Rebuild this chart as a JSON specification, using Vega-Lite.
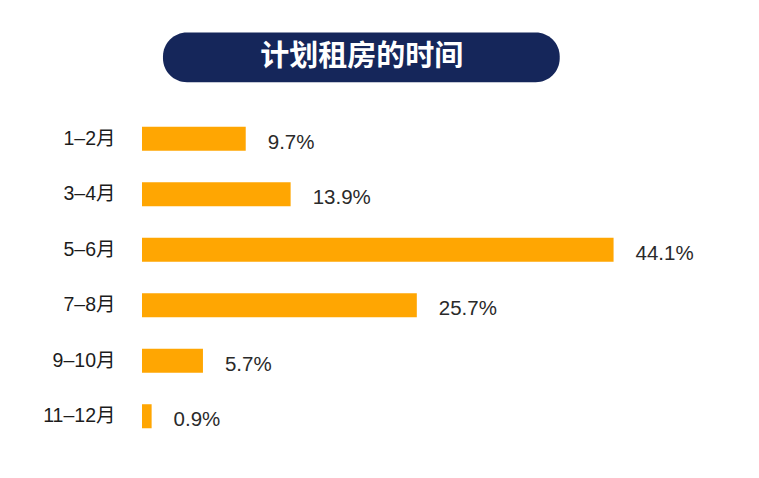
{
  "$schema": "https://vega.github.io/schema/vega-lite/v6.json",
  "autosize": {"type": "none"},
  "padding": {"left": 142, "top": 0, "right": 0, "bottom": 0},
  "width": 617,
  "height": 478,
  "background": "#ffffff",
  "config": {"view": {"stroke": null}, "font": "Liberation Sans, Noto Sans CJK SC"},
  "layer": [
    {
      "data": {"values": [
        {"month": "1–2月", "value": 9.7, "label": "9.7%"},
        {"month": "3–4月", "value": 13.9, "label": "13.9%"},
        {"month": "5–6月", "value": 44.1, "label": "44.1%"},
        {"month": "7–8月", "value": 25.7, "label": "25.7%"},
        {"month": "9–10月", "value": 5.7, "label": "5.7%"},
        {"month": "11–12月", "value": 0.9, "label": "0.9%"}
      ]},
      "encoding": {
        "y": {"field": "month", "type": "nominal", "sort": null,
          "scale": {"range": [111, 444], "paddingInner": 0.567, "paddingOuter": 0.2835},
          "axis": {"title": null, "domain": false, "ticks": false, "labelPadding": 27,
            "labelFontSize": 19.5, "labelColor": "#1c1c1c", "labelFont": "Liberation Sans, Noto Sans CJK SC"}},
        "x": {"field": "value", "type": "quantitative", "scale": {"domain": [0, 57.7], "nice": false}, "axis": null}
      },
      "layer": [
        {"mark": {"type": "bar", "color": "#FFA602"}},
        {"mark": {"type": "text", "align": "left", "baseline": "middle", "dx": 22, "dy": 4, "fontSize": 20.5, "color": "#2a2a2a", "font": "Liberation Sans, Noto Sans CJK SC"},
          "encoding": {"text": {"field": "label", "type": "nominal"}}}
      ]
    },
    {
      "data": {"values": [{"x0": 3.4, "x1": 67.7, "y0": 82.8, "y1": 93.2, "xc": 35.6, "yc": 88.0, "title": "计划租房的时间"}]},
      "layer": [
        {"mark": {"type": "rect", "color": "#15265A", "cornerRadius": 24},
          "encoding": {
            "x": {"field": "x0", "type": "quantitative", "scale": {"domain": [0, 100], "nice": false}, "axis": null},
            "x2": {"field": "x1"},
            "y": {"field": "y0", "type": "quantitative", "scale": {"domain": [0, 100], "nice": false}, "axis": null},
            "y2": {"field": "y1"}
          }},
        {"mark": {"type": "text", "color": "#ffffff", "fontSize": 29, "fontWeight": "bold", "font": "Noto Sans CJK SC", "align": "center", "baseline": "middle"},
          "encoding": {
            "x": {"field": "xc", "type": "quantitative", "scale": {"domain": [0, 100], "nice": false}, "axis": null},
            "y": {"field": "yc", "type": "quantitative", "scale": {"domain": [0, 100], "nice": false}, "axis": null},
            "text": {"field": "title"}
          }}
      ]
    }
  ],
  "resolve": {"scale": {"x": "independent", "y": "independent"}}
}
